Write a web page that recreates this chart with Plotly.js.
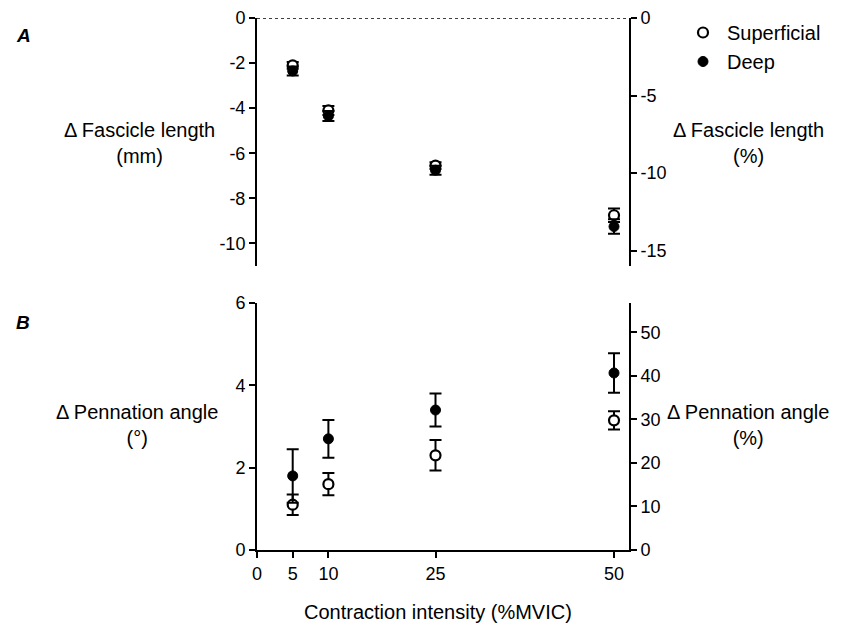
<!DOCTYPE html>
<html><head><meta charset="utf-8">
<script src="https://cdn.plot.ly/plotly-3.0.1.min.js"></script>
<style>body{margin:0;padding:0;background:#fff}#chart{width:848px;height:628px}</style>
</head><body><div id="chart"></div>
<script>
// Data
const intensity = [5, 10, 25, 50];
const flSuperficial = [-2.1, -4.1, -6.55, -8.75];
const flSuperficialErr = [0.15, 0.2, 0.15, 0.3];
const flDeep = [-2.35, -4.35, -6.75, -9.25];
const flDeepErr = [0.2, 0.22, 0.2, 0.32];
const paSuperficial = [1.1, 1.6, 2.3, 3.15];
const paSuperficialErr = [0.25, 0.27, 0.37, 0.22];
const paDeep = [1.8, 2.7, 3.4, 4.3];
const paDeepErr = [0.65, 0.46, 0.4, 0.48];
const xTicks = [0, 5, 10, 25, 50];
const flMmTicks = [0, -2, -4, -6, -8, -10];
const flPctTicks = [0, -5, -10, -15];
const paDegTicks = [0, 2, 4, 6];
const paPctTicks = [0, 10, 20, 30, 40, 50];

const FONT = 'Liberation Sans, Arial, sans-serif';
const TF = 20, KF = 18;

const openMarker = {symbol:'circle', size:10, color:'#ffffff', line:{color:'#000', width:2.2}};
const fillMarker = {symbol:'circle', size:10, color:'#000000', line:{color:'#000', width:1}};
const eb = (arr) => ({type:'data', array:arr, visible:true, color:'#000', thickness:2, width:6});

const traces = [
  {x:intensity, y:flSuperficial, error_y:eb(flSuperficialErr), mode:'markers', marker:openMarker, xaxis:'x2', yaxis:'y', name:'Superficial', showlegend:true},
  {x:intensity, y:flDeep, error_y:eb(flDeepErr), mode:'markers', marker:fillMarker, xaxis:'x2', yaxis:'y', name:'Deep', showlegend:true},
  {x:intensity, y:paSuperficial, error_y:eb(paSuperficialErr), mode:'markers', marker:openMarker, xaxis:'x', yaxis:'y3', name:'Superficial', showlegend:false},
  {x:intensity, y:paDeep, error_y:eb(paDeepErr), mode:'markers', marker:fillMarker, xaxis:'x', yaxis:'y3', name:'Deep', showlegend:false},
  {x:[null], y:[null], xaxis:'x2', yaxis:'y2', showlegend:false, hoverinfo:'skip'},
  {x:[null], y:[null], xaxis:'x', yaxis:'y4', showlegend:false, hoverinfo:'skip'}
];

const XMAX = 52.1;
const xd = [257/848, 629/848];
const dA = [1-266/628, 1-18/628];
const dB = [1-550/628, 1-303/628];
const axBase = {showline:true, linecolor:'#000', linewidth:2, ticks:'outside', ticklen:6, tickwidth:2, tickcolor:'#000', showgrid:false, zeroline:false, tickfont:{family:FONT, size:KF, color:'#000'}, fixedrange:true};

const layout = {
  width:848, height:628,
  margin:{l:0, r:0, t:0, b:0},
  paper_bgcolor:'#fff', plot_bgcolor:'rgba(0,0,0,0)',
  font:{family:FONT, size:TF, color:'#000'},
  showlegend:true,
  legend:{x:679/848, y:1-13/628, xanchor:'left', yanchor:'top', font:{family:FONT, size:TF, color:'#000'}, bgcolor:'rgba(0,0,0,0)', tracegroupgap:0, itemwidth:38},
  xaxis: Object.assign({}, axBase, {domain:xd, range:[0, XMAX], anchor:'y3', tickvals:xTicks, ticktext:xTicks.map(String)}),
  xaxis2: Object.assign({}, axBase, {domain:xd, range:[0, XMAX], anchor:'y', visible:false}),
  yaxis: Object.assign({}, axBase, {domain:dA, range:[-11, 0], anchor:'x2', side:'left', tickvals:flMmTicks, ticktext:flMmTicks.map(String)}),
  yaxis2: Object.assign({}, axBase, {range:[-16, 0], anchor:'x2', overlaying:'y', side:'right', tickvals:flPctTicks, ticktext:flPctTicks.map(String)}),
  yaxis3: Object.assign({}, axBase, {domain:dB, range:[0, 6], anchor:'x', side:'left', tickvals:paDegTicks, ticktext:paDegTicks.map(String)}),
  yaxis4: Object.assign({}, axBase, {range:[0, 56.7], anchor:'x', overlaying:'y3', side:'right', tickvals:paPctTicks, ticktext:paPctTicks.map(String)}),
  shapes:[
    {type:'line', xref:'x2', yref:'y', x0:0, x1:XMAX, y0:0, y1:0, line:{color:'#000', width:1.5, dash:'dot'}}
  ],
  annotations:[
    {text:'<b><i>A</i></b>', xref:'paper', yref:'paper', x:14/848, y:1-36/628, xanchor:'left', yanchor:'middle', showarrow:false, font:{family:FONT, size:19}},
    {text:'<b><i>B</i></b>', xref:'paper', yref:'paper', x:14/848, y:1-322/628, xanchor:'left', yanchor:'middle', showarrow:false, font:{family:FONT, size:19}},
    {text:'\u0394 Fascicle length<br>(mm)', xref:'paper', yref:'paper', x:139/848, y:1-143/628, xanchor:'center', yanchor:'middle', showarrow:false, font:{family:FONT, size:TF}},
    {text:'\u0394 Fascicle length<br>(%)', xref:'paper', yref:'paper', x:748/848, y:1-143/628, xanchor:'center', yanchor:'middle', showarrow:false, font:{family:FONT, size:TF}},
    {text:'\u0394 Pennation angle<br>(°)', xref:'paper', yref:'paper', x:137/848, y:1-425/628, xanchor:'center', yanchor:'middle', showarrow:false, font:{family:FONT, size:TF}},
    {text:'\u0394 Pennation angle<br>(%)', xref:'paper', yref:'paper', x:748/848, y:1-425/628, xanchor:'center', yanchor:'middle', showarrow:false, font:{family:FONT, size:TF}},
    {text:'Contraction intensity (%MVIC)', xref:'paper', yref:'paper', x:438/848, y:1-612/628, xanchor:'center', yanchor:'middle', showarrow:false, font:{family:FONT, size:TF}}
  ]
};

Plotly.newPlot('chart', traces, layout, {staticPlot:true, displayModeBar:false});
</script></body></html>
